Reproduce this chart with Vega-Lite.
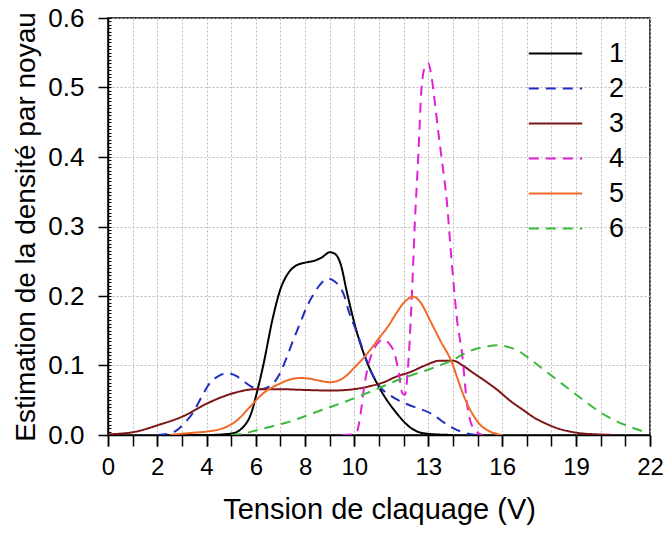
{
  "$schema": "https://vega.github.io/schema/vega-lite/v6.json",
  "width": 542,
  "height": 417,
  "autosize": "none",
  "padding": {"left": 108, "top": 18, "right": 15, "bottom": 98},
  "background": "white",
  "config": {
    "font": "Liberation Sans",
    "view": {"stroke": "black", "strokeWidth": 1.5},
    "axis": {
      "domainColor": "black", "domainWidth": 1.5,
      "tickColor": "black", "tickWidth": 1.5,
      "labelColor": "black", "titleColor": "black",
      "labelFont": "Liberation Sans", "titleFont": "Liberation Sans",
      "titleFontWeight": "normal",
      "gridColor": "#bdbdbd", "gridDash": [2, 2], "gridWidth": 1,
      "labelOverlap": false, "labelFlush": false
    }
  },
  "datasets": {
    "curves": [
      {"s":"1","v":2,"d":0},{"s":"1","v":4,"d":0},{"s":"1","v":5,"d":0.002},{"s":"1","v":5.5,"d":0.012},{"s":"1","v":5.8,"d":0.03},{"s":"1","v":6.05,"d":0.062},{"s":"1","v":6.3,"d":0.1},{"s":"1","v":6.7,"d":0.17},{"s":"1","v":7.0,"d":0.21},{"s":"1","v":7.3,"d":0.232},{"s":"1","v":7.6,"d":0.243},{"s":"1","v":8.0,"d":0.248},{"s":"1","v":8.4,"d":0.251},{"s":"1","v":8.7,"d":0.256},{"s":"1","v":9.0,"d":0.263},{"s":"1","v":9.2,"d":0.261},{"s":"1","v":9.45,"d":0.245},{"s":"1","v":9.7,"d":0.205},{"s":"1","v":10.1,"d":0.148},{"s":"1","v":10.5,"d":0.106},{"s":"1","v":11.0,"d":0.069},{"s":"1","v":11.7,"d":0.032},{"s":"1","v":12.3,"d":0.01},{"s":"1","v":12.9,"d":0.002},{"s":"1","v":14,"d":0},
      {"s":"2","v":2,"d":0},{"s":"2","v":2.5,"d":0.002},{"s":"2","v":2.8,"d":0.007},{"s":"2","v":3.1,"d":0.017},{"s":"2","v":3.45,"d":0.032},{"s":"2","v":3.8,"d":0.055},{"s":"2","v":4.14,"d":0.075},{"s":"2","v":4.5,"d":0.085},{"s":"2","v":4.87,"d":0.089},{"s":"2","v":5.2,"d":0.085},{"s":"2","v":5.48,"d":0.078},{"s":"2","v":5.8,"d":0.07},{"s":"2","v":6.17,"d":0.066},{"s":"2","v":6.5,"d":0.069},{"s":"2","v":6.7,"d":0.074},{"s":"2","v":7.0,"d":0.09},{"s":"2","v":7.26,"d":0.112},{"s":"2","v":7.5,"d":0.135},{"s":"2","v":7.8,"d":0.161},{"s":"2","v":8.05,"d":0.183},{"s":"2","v":8.3,"d":0.2},{"s":"2","v":8.6,"d":0.216},{"s":"2","v":8.95,"d":0.225},{"s":"2","v":9.2,"d":0.221},{"s":"2","v":9.55,"d":0.204},{"s":"2","v":9.8,"d":0.175},{"s":"2","v":10.1,"d":0.148},{"s":"2","v":10.5,"d":0.107},{"s":"2","v":10.75,"d":0.086},{"s":"2","v":11.0,"d":0.071},{"s":"2","v":11.5,"d":0.056},{"s":"2","v":12.1,"d":0.045},{"s":"2","v":13.1,"d":0.031},{"s":"2","v":13.9,"d":0.012},{"s":"2","v":14.4,"d":0.004},{"s":"2","v":15,"d":0},
      {"s":"3","v":0,"d":0.001},{"s":"3","v":1.0,"d":0.004},{"s":"3","v":2.1,"d":0.015},{"s":"3","v":3.05,"d":0.027},{"s":"3","v":4.0,"d":0.045},{"s":"3","v":5.07,"d":0.06},{"s":"3","v":6.0,"d":0.066},{"s":"3","v":7.0,"d":0.066},{"s":"3","v":7.8,"d":0.065},{"s":"3","v":9.1,"d":0.064},{"s":"3","v":10.0,"d":0.066},{"s":"3","v":10.6,"d":0.07},{"s":"3","v":11.2,"d":0.076},{"s":"3","v":11.7,"d":0.084},{"s":"3","v":12.3,"d":0.091},{"s":"3","v":12.8,"d":0.099},{"s":"3","v":13.5,"d":0.107},{"s":"3","v":14.0,"d":0.107},{"s":"3","v":14.4,"d":0.1},{"s":"3","v":14.8,"d":0.09},{"s":"3","v":15.3,"d":0.078},{"s":"3","v":15.8,"d":0.065},{"s":"3","v":16.3,"d":0.05},{"s":"3","v":16.85,"d":0.036},{"s":"3","v":17.3,"d":0.025},{"s":"3","v":17.8,"d":0.016},{"s":"3","v":18.3,"d":0.009},{"s":"3","v":18.75,"d":0.005},{"s":"3","v":19.3,"d":0.002},{"s":"3","v":19.8,"d":0.001},{"s":"3","v":20.5,"d":0},
      {"s":"4","v":9.5,"d":0},{"s":"4","v":10.0,"d":0.001},{"s":"4","v":10.1,"d":0.004},{"s":"4","v":10.25,"d":0.03},{"s":"4","v":10.4,"d":0.07},{"s":"4","v":10.6,"d":0.105},{"s":"4","v":10.77,"d":0.122},{"s":"4","v":11.0,"d":0.134},{"s":"4","v":11.17,"d":0.137},{"s":"4","v":11.4,"d":0.132},{"s":"4","v":11.65,"d":0.115},{"s":"4","v":11.8,"d":0.09},{"s":"4","v":11.95,"d":0.06},{"s":"4","v":12.05,"d":0.058},{"s":"4","v":12.18,"d":0.098},{"s":"4","v":12.32,"d":0.19},{"s":"4","v":12.46,"d":0.309},{"s":"4","v":12.6,"d":0.405},{"s":"4","v":12.73,"d":0.501},{"s":"4","v":12.87,"d":0.53},{"s":"4","v":13.0,"d":0.535},{"s":"4","v":13.13,"d":0.516},{"s":"4","v":13.27,"d":0.478},{"s":"4","v":13.35,"d":0.453},{"s":"4","v":13.55,"d":0.396},{"s":"4","v":13.76,"d":0.334},{"s":"4","v":13.9,"d":0.271},{"s":"4","v":14.04,"d":0.213},{"s":"4","v":14.17,"d":0.165},{"s":"4","v":14.37,"d":0.118},{"s":"4","v":14.57,"d":0.046},{"s":"4","v":14.86,"d":0.008},{"s":"4","v":15.2,"d":0},
      {"s":"5","v":2.5,"d":0},{"s":"5","v":3.05,"d":0.002},{"s":"5","v":4.0,"d":0.005},{"s":"5","v":4.4,"d":0.007},{"s":"5","v":5.2,"d":0.02},{"s":"5","v":5.75,"d":0.04},{"s":"5","v":6.3,"d":0.06},{"s":"5","v":6.98,"d":0.074},{"s":"5","v":7.4,"d":0.08},{"s":"5","v":7.8,"d":0.082},{"s":"5","v":8.2,"d":0.081},{"s":"5","v":8.6,"d":0.078},{"s":"5","v":9.0,"d":0.076},{"s":"5","v":9.4,"d":0.079},{"s":"5","v":9.7,"d":0.086},{"s":"5","v":10.0,"d":0.097},{"s":"5","v":10.35,"d":0.11},{"s":"5","v":10.7,"d":0.125},{"s":"5","v":11.04,"d":0.141},{"s":"5","v":11.4,"d":0.158},{"s":"5","v":11.7,"d":0.175},{"s":"5","v":12.0,"d":0.19},{"s":"5","v":12.4,"d":0.199},{"s":"5","v":12.7,"d":0.19},{"s":"5","v":13.07,"d":0.165},{"s":"5","v":13.5,"d":0.135},{"s":"5","v":13.95,"d":0.105},{"s":"5","v":14.2,"d":0.08},{"s":"5","v":14.4,"d":0.06},{"s":"5","v":14.8,"d":0.03},{"s":"5","v":15.1,"d":0.015},{"s":"5","v":15.4,"d":0.007},{"s":"5","v":16,"d":0},
      {"s":"6","v":5.0,"d":0},{"s":"6","v":5.5,"d":0.002},{"s":"6","v":6.05,"d":0.007},{"s":"6","v":6.6,"d":0.012},{"s":"6","v":7.26,"d":0.018},{"s":"6","v":8.3,"d":0.031},{"s":"6","v":9.0,"d":0.04},{"s":"6","v":9.4,"d":0.045},{"s":"6","v":10.35,"d":0.058},{"s":"6","v":10.9,"d":0.066},{"s":"6","v":11.7,"d":0.078},{"s":"6","v":12.4,"d":0.087},{"s":"6","v":13.07,"d":0.095},{"s":"6","v":13.6,"d":0.102},{"s":"6","v":14.0,"d":0.108},{"s":"6","v":14.4,"d":0.116},{"s":"6","v":14.7,"d":0.121},{"s":"6","v":15.2,"d":0.126},{"s":"6","v":15.8,"d":0.129},{"s":"6","v":16.2,"d":0.127},{"s":"6","v":16.6,"d":0.122},{"s":"6","v":17.1,"d":0.11},{"s":"6","v":17.65,"d":0.095},{"s":"6","v":18.2,"d":0.08},{"s":"6","v":18.75,"d":0.065},{"s":"6","v":19.3,"d":0.05},{"s":"6","v":19.8,"d":0.037},{"s":"6","v":20.3,"d":0.026},{"s":"6","v":20.8,"d":0.017},{"s":"6","v":21.4,"d":0.009},{"s":"6","v":21.9,"d":0.003}
    ]
  },
  "data": {"name": "curves"},
  "layer": [
    {
      "mark": {"type": "point", "opacity": 0},
      "encoding": {
        "x": {
          "field": "v", "type": "quantitative",
          "scale": {"domain": [0, 22], "nice": false, "zero": false},
          "axis": {
            "orient": "bottom", "offset": 0, "title": null, "labels": false, "domain": false, "grid": true,
            "tickSize": 11,
            "values": [0,1,2,3,4,5,6,7,8,9,10,11,12,13,14,15,16,17,18,19,20,21,22]
          }
        },
        "y": {
          "field": "d", "type": "quantitative",
          "scale": {"domain": [0, 0.6], "nice": false},
          "axis": {
            "orient": "left", "offset": 0, "title": null, "labels": false, "domain": false, "grid": false,
            "tickSize": -3, "tickWidth": 1,
            "values": [0,0.005,0.01,0.015,0.02,0.025,0.03,0.035,0.04,0.045,0.05,0.055,0.06,0.065,0.07,0.075,0.08,0.085,0.09,0.095,0.1,0.105,0.11,0.115,0.12,0.125,0.13,0.135,0.14,0.145,0.15,0.155,0.16,0.165,0.17,0.175,0.18,0.185,0.19,0.195,0.2,0.205,0.21,0.215,0.22,0.225,0.23,0.235,0.24,0.245,0.25,0.255,0.26,0.265,0.27,0.275,0.28,0.285,0.29,0.295,0.3,0.305,0.31,0.315,0.32,0.325,0.33,0.335,0.34,0.345,0.35,0.355,0.36,0.365,0.37,0.375,0.38,0.385,0.39,0.395,0.4,0.405,0.41,0.415,0.42,0.425,0.43,0.435,0.44,0.445,0.45,0.455,0.46,0.465,0.47,0.475,0.48,0.485,0.49,0.495,0.5,0.505,0.51,0.515,0.52,0.525,0.53,0.535,0.54,0.545,0.55,0.555,0.56,0.565,0.57,0.575,0.58,0.585,0.59,0.595,0.6]
          }
        }
      }
    },
    {
      "mark": {"type": "line", "strokeWidth": 2, "interpolate": "monotone", "clip": true},
      "encoding": {
        "x": {
          "field": "v", "type": "quantitative",
          "axis": {
            "orient": "bottom", "offset": 0,
            "title": "Tension de claquage (V)",
            "values": [0, 2, 4, 6, 8, 10, 13, 16, 19, 22],
            "labelOverlap": false, "grid": false,
            "tickSize": 11, "labelFontSize": 24, "labelPadding": 9,
            "titleFontSize": 29, "titlePadding": 16
          }
        },
        "y": {
          "field": "d", "type": "quantitative",
          "axis": {
            "orient": "left", "offset": 0,
            "title": "Estimation de la densité par noyau",
            "values": [0, 0.1, 0.2, 0.3, 0.4, 0.5, 0.6],
            "format": ".1f", "labelOverlap": false,
            "tickSize": 10, "labelFontSize": 26, "labelPadding": 14,
            "titleFontSize": 28, "titlePadding": 7, "grid": true
          }
        },
        "color": {
          "field": "s", "type": "nominal",
          "scale": {"domain": ["1","2","3","4","5","6"], "range": ["#000000", "#1f2fbf", "#7b1616", "#e020d8", "#f06a28", "#3cb83c"]},
          "legend": {
            "title": null, "orient": "none", "legendX": 434, "legendY": 22,
            "padding": 0, "symbolType": "M-2.67,0H2.67", "symbolSize": 400,
            "symbolStrokeWidth": 2, "labelFontSize": 27, "labelFont": "Liberation Sans",
            "labelColor": "black", "labelOffset": 40, "rowPadding": 7
          }
        },
        "strokeDash": {
          "field": "s", "type": "nominal",
          "scale": {"domain": ["1","2","3","4","5","6"], "range": [[1,0],[10,7],[1,0],[10,7],[1,0],[10,7]]},
          "legend": {
            "title": null, "orient": "none", "legendX": 434, "legendY": 22,
            "padding": 0, "symbolType": "M-2.67,0H2.67", "symbolSize": 400,
            "symbolStrokeWidth": 2, "labelFontSize": 27, "labelFont": "Liberation Sans",
            "labelColor": "black", "labelOffset": 40, "rowPadding": 7
          }
        }
      }
    }
  ],
  "resolve": {"axis": {"x": "independent", "y": "independent"}}
}
